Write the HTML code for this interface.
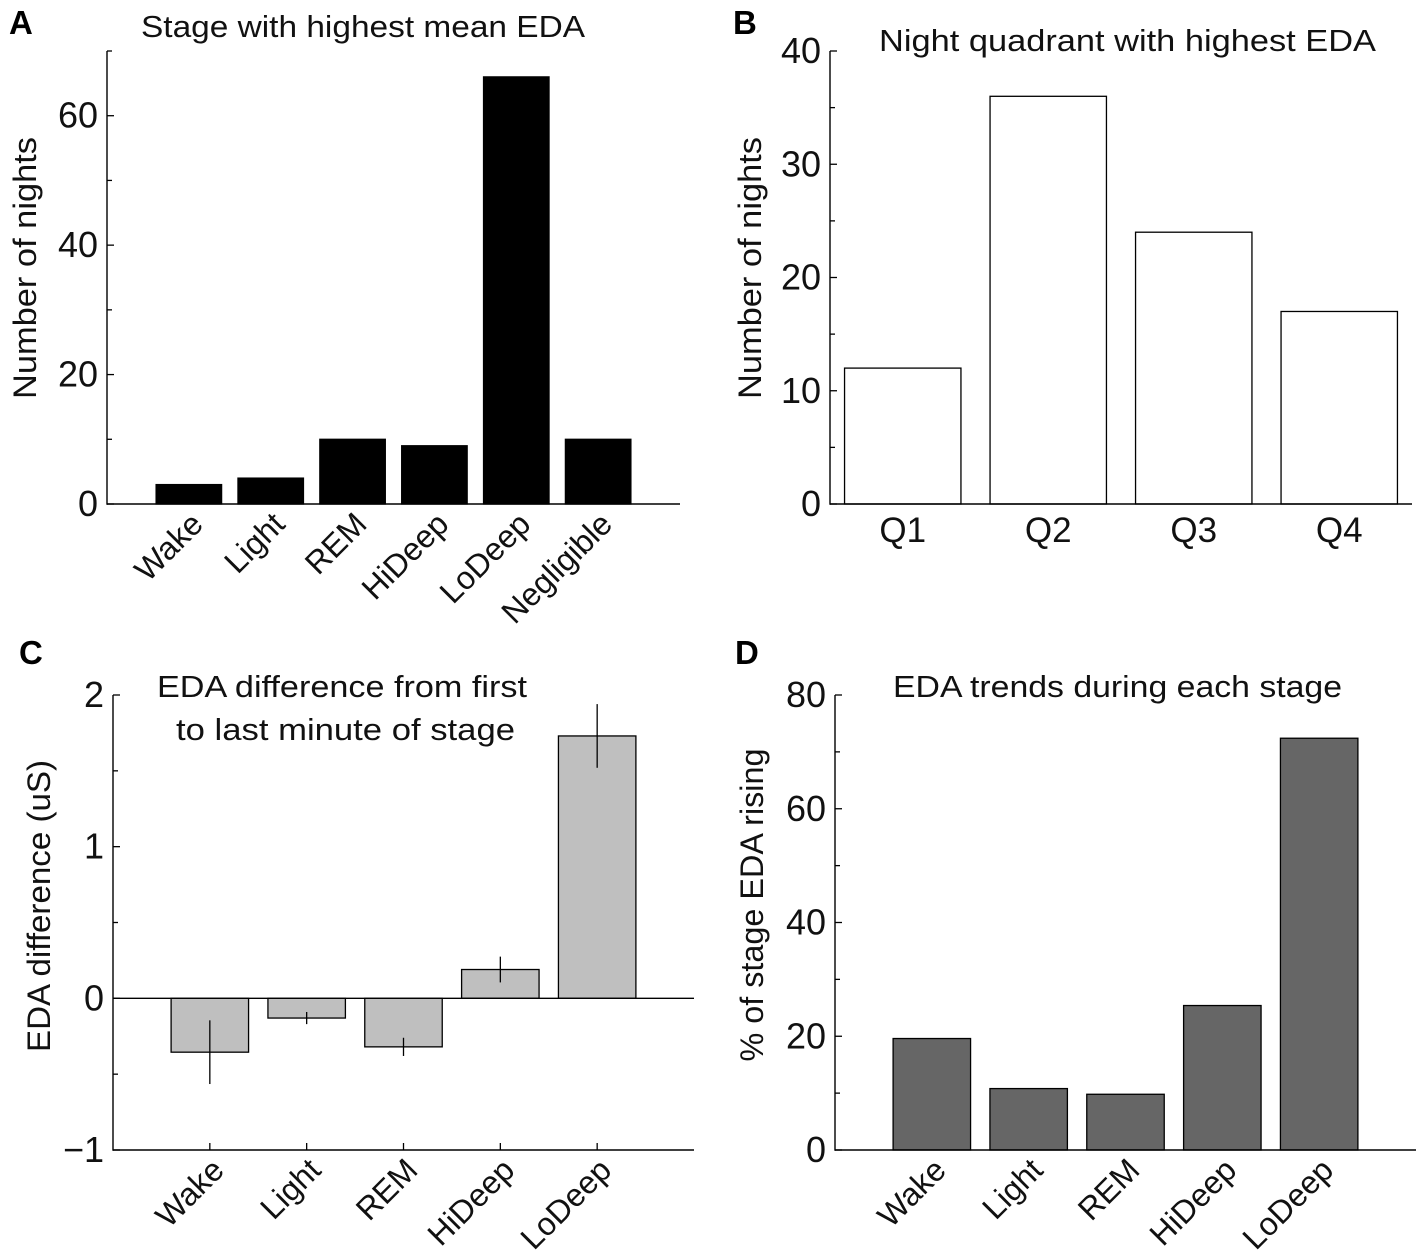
<!DOCTYPE html>
<html><head><meta charset="utf-8">
<style>
html,body{margin:0;padding:0;background:#fff;}
svg{display:block;font-family:"Liberation Sans","DejaVu Sans",sans-serif;}
</style></head>
<body>
<svg id="fig" width="1418" height="1257" viewBox="0 0 1418 1257" xmlns="http://www.w3.org/2000/svg">
<text x="9" y="34" font-size="33" font-weight="bold">A</text>
<text x="733" y="34" font-size="33" font-weight="bold">B</text>
<text x="19" y="664" font-size="33" font-weight="bold">C</text>
<text x="735" y="664" font-size="33" font-weight="bold">D</text>
</svg>
<script>
// Panel A data
const catsA = ["Wake","Light","REM","HiDeep","LoDeep","Negligible"];
const valsA = [3,4,10,9,66,10];
const ticksA = [0,20,40,60];
// Panel B data
const catsB = ["Q1","Q2","Q3","Q4"];
const valsB = [12,36,24,17];
const ticksB = [0,10,20,30,40];
// Panel C data
const catsC = ["Wake","Light","REM","HiDeep","LoDeep"];
const valsC = [-0.355,-0.13,-0.32,0.19,1.73];
const errC = [0.21,0.04,0.06,0.085,0.21];
const ticksC = [-1,0,1,2];
const tickLabelsC = ["\u22121","0","1","2"];
// Panel D data
const catsD = ["Wake","Light","REM","HiDeep","LoDeep"];
const valsD = [19.6,10.8,9.8,25.4,72.4];
const ticksD = [0,20,40,60,80];

const svg = document.getElementById('fig');
const NS = 'http://www.w3.org/2000/svg';
function mk(tag, attrs, parent){
  const e = document.createElementNS(NS, tag);
  for (const k in attrs) e.setAttribute(k, attrs[k]);
  (parent||svg).appendChild(e);
  return e;
}

function panel(cfg){
  const g = mk('g', {});
  
  
  const sx = v => cfg.x0 + (v - cfg.xmin) / (cfg.xmax - cfg.xmin) * (cfg.x1 - cfg.x0);
  const sy = v => cfg.y0 - (v - cfg.ymin) / (cfg.ymax - cfg.ymin) * (cfg.y0 - cfg.y1);
  cfg.minor.forEach(v => {
    const t = mk('line', {x1: cfg.x0, x2: cfg.x0 + 5, y1: sy(v), y2: sy(v), stroke: '#000', 'stroke-width': 1.3}, g);
    
    
  });
  cfg.ticks.forEach((v, i) => {
    const t = mk('line', {x1: cfg.x0, x2: cfg.x0 + 7, y1: sy(v), y2: sy(v), stroke: '#000', 'stroke-width': 1.3}, g);
    
    
    const lb = mk('text', {x: cfg.x0 - 9, y: sy(v) + 12, 'font-size': 36, 'text-anchor': 'end', fill: '#111'}, g);
    lb.textContent = cfg.tickLabels ? cfg.tickLabels[i] : String(v);
    
    
  });
  cfg.cats.forEach((c, i) => {
    const x = sx(i + 1);
    const t = mk('line', {x1: x, x2: x, y1: cfg.y0, y2: cfg.y0 - 7, stroke: '#000', 'stroke-width': 1.3}, g);
    
    
  });
  const base = cfg.base !== undefined ? cfg.base : 0;
  cfg.vals.forEach((v, i) => {
    const xc = sx(i + 1), hw = 0.4 * (sx(1) - sx(0));
    const top = Math.min(sy(v), sy(base)), bot = Math.max(sy(v), sy(base));
    const r = mk('rect', {x: xc - hw, y: top, width: 2 * hw, height: bot - top, fill: cfg.fill, stroke: '#000', 'stroke-width': 1.3}, g);
    
    
    if (cfg.err) {
      const e = mk('line', {x1: xc, x2: xc, y1: sy(v + cfg.err[i]), y2: sy(v - cfg.err[i]), stroke: '#000', 'stroke-width': 1.3}, g);
      
      
    }
  });
  if (cfg.zeroLine) {
    const z = mk('line', {x1: cfg.x0, x2: cfg.x1, y1: sy(0), y2: sy(0), stroke: '#000', 'stroke-width': 1.3}, g);
    
    
  }
  const ya = mk('line', {x1: cfg.x0, x2: cfg.x0, y1: cfg.y1, y2: cfg.y0 + 0.7, stroke: '#000', 'stroke-width': 1.4}, g);
  
  
  const xa = mk('line', {x1: cfg.x0, x2: cfg.x1, y1: cfg.y0, y2: cfg.y0, stroke: '#000', 'stroke-width': 1.4}, g);
  
  
  cfg.cats.forEach((c, i) => {
    const x = sx(i + 1);
    let lb;
    if (cfg.rotate) {
      const ax = x + 16, ay = cfg.y0 + 22;
      lb = mk('text', {x: ax, y: ay, 'font-size': 32, 'text-anchor': 'end', fill: '#111', transform: `rotate(-45 ${ax} ${ay})`}, g);
    } else {
      lb = mk('text', {x: x, y: cfg.y0 + 38, 'font-size': 35, 'text-anchor': 'middle', fill: '#111'}, g);
    }
    lb.textContent = c;
    
    
  });
  const yl = mk('text', {x: 0, y: 0, 'font-size': 32, 'text-anchor': 'middle', fill: '#111', transform: `translate(${cfg.ylx} ${cfg.yly}) rotate(-90)`, textLength: cfg.ylLen, lengthAdjust: 'spacingAndGlyphs'}, g);
  yl.textContent = cfg.ylabel;
  
  
  cfg.title.forEach(tl => {
    const t = mk('text', {x: tl.x, y: tl.y, 'font-size': 31, fill: '#111', textLength: tl.w, lengthAdjust: 'spacingAndGlyphs'}, g);
    t.textContent = tl.s;
    
    
  });
}

panel({name:'panel-a', cats:catsA, vals:valsA, ticks:ticksA, minor:[10,30,50,70], fill:'#000',
  x0:107, x1:680, y0:504, y1:51, xmin:0, xmax:7, ymin:0, ymax:70, rotate:true,
  ylabel:'Number of nights', ylx:36, yly:268, ylLen:262,
  title:[{s:'Stage with highest mean EDA', x:141, y:37, w:444}]});
panel({name:'panel-b', cats:catsB, vals:valsB, ticks:ticksB, minor:[5,15,25,35], fill:'#fff',
  x0:830, x1:1412, y0:504, y1:51, xmin:0.5, xmax:4.5, ymin:0, ymax:40, rotate:false,
  ylabel:'Number of nights', ylx:761, yly:268, ylLen:262,
  title:[{s:'Night quadrant with highest EDA', x:879, y:51, w:497}]});
panel({name:'panel-c', cats:catsC, vals:valsC, err:errC, ticks:ticksC, tickLabels:tickLabelsC, minor:[-0.5,0.5,1.5], fill:'#bfbfbf',
  x0:113, x1:694, y0:1150, y1:695, xmin:0, xmax:6, ymin:-1, ymax:2, rotate:true, zeroLine:true,
  ylabel:'EDA difference (uS)', ylx:50, yly:906, ylLen:292,
  title:[{s:'EDA difference from first', x:157, y:697, w:370},{s:'to last minute of stage', x:176, y:740, w:339}]});
panel({name:'panel-d', cats:catsD, vals:valsD, ticks:ticksD, minor:[10,30,50,70], fill:'#666',
  x0:835, x1:1416, y0:1150, y1:695, xmin:0, xmax:6, ymin:0, ymax:80, rotate:true,
  ylabel:'% of stage EDA rising', ylx:763, yly:905, ylLen:313,
  title:[{s:'EDA trends during each stage', x:893, y:697, w:449}]});
</script>
</body></html>
